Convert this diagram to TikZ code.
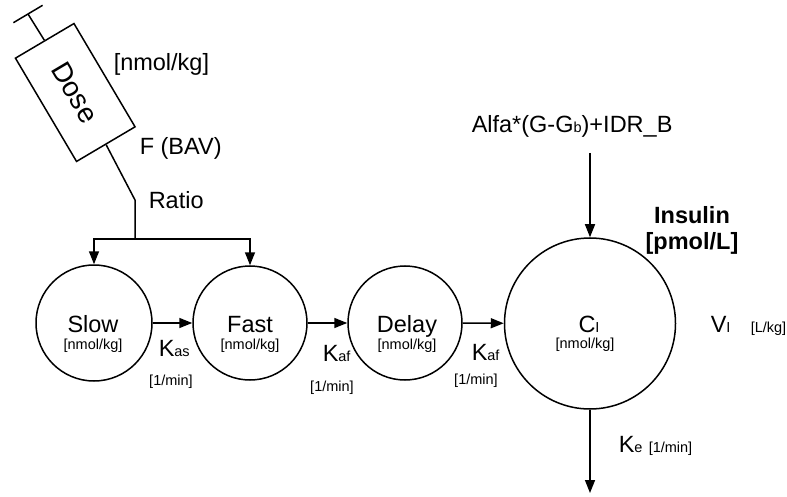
\documentclass[tikz,border=0pt]{standalone}
\usepackage{fontspec}
\setmainfont{Liberation Sans}
\usetikzlibrary{arrows.meta,positioning,shapes}
\newcommand{\bigtxt}{\fontsize{23.5}{28}\selectfont}
\newcommand{\smalltxt}{\fontsize{14.5}{17}\selectfont}

\begin{document}
\begin{tikzpicture}[x = 1pt, y = -1pt, line width = 1.5pt,
  comp/.style = {circle, draw, inner sep = 0pt},
  flow/.style = {-{Triangle[length=13pt,width=10pt]}},
  txt/.style = {inner sep = 0pt, anchor = base, font = \bigtxt},
  unit/.style = {inner sep = 0pt, anchor = base, font = \smalltxt}]
\useasboundingbox (0,0) rectangle (787,497);
\node[draw, inner sep = 0pt, minimum width = 120pt, minimum height = 68pt, rotate = -59.4, font = \fontsize{28}{30}\selectfont] (dose) at (75.25,92.5) {Dose};
\coordinate (stem) at (28,14);
\coordinate (bara) at (13.4,22.7);
\coordinate (barb) at (42.6,5.3);
\draw (dose.west) -- (stem);
\draw (bara) -- (barb);
\node[txt, anchor = base west] (doseunit) at (113,71) {[nmol/kg]};
\node[txt, anchor = base west] (bav) at (139,155) {F (BAV)};
\node[txt, anchor = base west] (ratio) at (148,208) {Ratio};
\node[comp, minimum size = 116pt] (slow) at (94,323) {};
\node[comp, minimum size = 114pt] (fast) at (250,323) {};
\node[comp, minimum size = 114pt] (delay) at (405,323) {};
\node[comp, minimum size = 171pt] (ci) at (590,323.5) {};
\coordinate (kink) at (135,200);
\coordinate (split) at (135,239);
\draw (dose.east) -- (kink) -- (split);
\draw[flow] (split) -| (slow);
\draw[flow] (split) -| (fast);
\draw[flow] (slow) -- (fast);
\draw[flow] (fast) -- (delay);
\draw[flow] (delay) -- (ci);
\coordinate (feed) at (590,153);
\coordinate (drain) at (590,493);
\draw[flow] (feed) -- (ci);
\draw[flow] (ci) -- (drain);
\node[txt] (slowname) at (93,332) {Slow};
\node[unit] (slowunit) at (93,349) {[nmol/kg]};
\node[txt] (fastname) at (250,332) {Fast};
\node[unit] (fastunit) at (250,349) {[nmol/kg]};
\node[txt] (delayname) at (407,332) {Delay};
\node[unit] (delayunit) at (407,349) {[nmol/kg]};
\node[txt] (ciname) at (589,332) {C{\smalltxt I}};
\node[unit] (ciunit) at (585,348) {[nmol/kg]};
\node[txt, anchor = base west] (kas) at (158,356) {K{\smalltxt as}};
\node[unit] (kasunit) at (171,385) {[1/min]};
\node[txt, anchor = base west] (kaf) at (322,361) {K{\smalltxt af}};
\node[unit] (kafunit) at (332,391) {[1/min]};
\node[txt, anchor = base west] (kafb) at (471,360) {K{\smalltxt af}};
\node[unit] (kafbunit) at (476,384) {[1/min]};
\node[txt, anchor = base west] (ke) at (618,452) {K{\smalltxt e}};
\node[unit, anchor = base west] (keunit) at (648,452) {[1/min]};
\node[txt, anchor = base west] (vi) at (710,332) {V{\smalltxt I}};
\node[unit, anchor = base west] (viunit) at (750,332) {[L/kg]};
\node[txt, font = \bigtxt\bfseries] (insulin) at (692,223) {Insulin};
\node[txt, font = \bigtxt\bfseries] (insunit) at (692,250) {[pmol/L]};
\node[txt, anchor = base west] (input) at (471,133) {Alfa*(G-G{\smalltxt b})+IDR\_B};
\end{tikzpicture}
\end{document}
